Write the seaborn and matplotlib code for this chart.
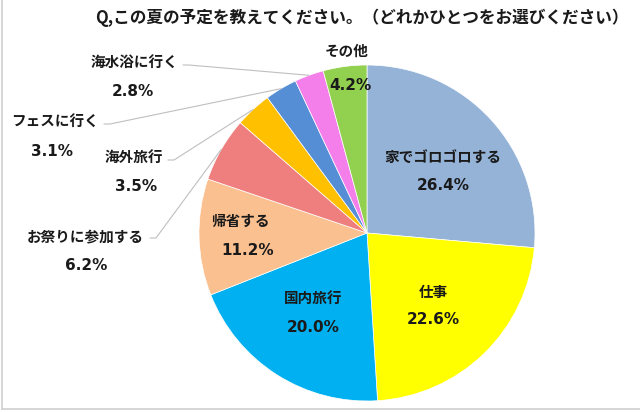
import numpy as np
import seaborn as sns
import matplotlib.pyplot as plt
from matplotlib.lines import Line2D

labels = ['家でゴロゴロする', '仕事', '国内旅行', '帰省する', 'お祭りに参加する',
          '海外旅行', 'フェスに行く', '海水浴に行く', 'その他']
values = [26.4, 22.6, 20.0, 11.2, 6.2, 3.5, 3.1, 2.8, 4.2]
colors = ['#95B3D7', '#FFFF00', '#00B0F0', '#FAC090', '#EE7F7E',
          '#FFC000', '#558ED5', '#F47FEA', '#92D050']
title = 'Q,この夏の予定を教えてください。（どれかひとつをお選びください）'

sns.set_theme(style="white")
plt.rcParams['font.family'] = ['Noto Sans CJK JP', 'DejaVu Sans']

W, H = 640, 412
fig = plt.figure(figsize=(6.4, 4.12), dpi=100)
ax = fig.add_axes([0, 0, 1, 1])

cx, cy, r = 367, H - 233, 168
wedges, _ = ax.pie(values, colors=colors, startangle=90, counterclock=False,
                   center=(cx, cy), radius=r, frame=True,
                   wedgeprops=dict(edgecolor='white', linewidth=0.5))
ax.set_xlim(0, W)
ax.set_ylim(0, H)
ax.set_aspect('equal')
ax.axis('off')

tc = '#1a1a1a'
fs = 10.5
pfs = 11
pfam = ['DejaVu Sans']
ax.text(629, H - 18, title, ha='right', va='center', fontsize=12,
        fontweight='bold', color=tc)

# labels drawn inside the slices (pixel positions of text)
inside = {
    0: (443, 157, 443, 185),
    1: (433, 292, 433, 320),
    2: (313, 298, 313, 327),
    3: (240, 221, 248, 250),
    8: (347, 51, 350, 85),
}
for i, (lx, ly, px, py) in inside.items():
    ax.text(lx, H - ly, labels[i], ha='center', va='center', fontsize=fs,
            fontweight='bold', color=tc)
    ax.text(px, H - py, f'{values[i]:.1f}%', ha='center', va='center',
            fontsize=pfs, fontweight='bold', color=tc, family=pfam)

# labels outside with leader lines: (text center x, y, pct x, y, line start x, y)
outside = {
    7: (134, 63, 133, 91, 183, 65),
    6: (55, 122, 52, 151, 104, 124),
    5: (134, 157, 136, 186, 168, 160),
    4: (85, 236, 86, 265, 150, 238),
}
for i, (lx, ly, px, py, sx, sy) in outside.items():
    ax.text(lx, H - ly, labels[i], ha='center', va='center', fontsize=fs,
            fontweight='bold', color=tc)
    ax.text(px, H - py, f'{values[i]:.1f}%', ha='center', va='center',
            fontsize=pfs, fontweight='bold', color=tc, family=pfam)
    w = wedges[i]
    ang = np.deg2rad((w.theta1 + w.theta2) / 2)
    ex, ey = cx + r * np.cos(ang), cy + r * np.sin(ang)
    ax.plot([sx, sx + 6, ex], [H - sy, H - sy, ey], color='#bfbfbf', lw=0.8)

# light frame at left and bottom
fig.add_artist(Line2D([2 / W, 2 / W], [3 / H, 1], color='#d0d0d0', lw=1.2))
fig.add_artist(Line2D([2 / W, 1], [3 / H, 3 / H], color='#d0d0d0', lw=1.2))

fig.savefig('out.png', dpi=100, facecolor='white')
